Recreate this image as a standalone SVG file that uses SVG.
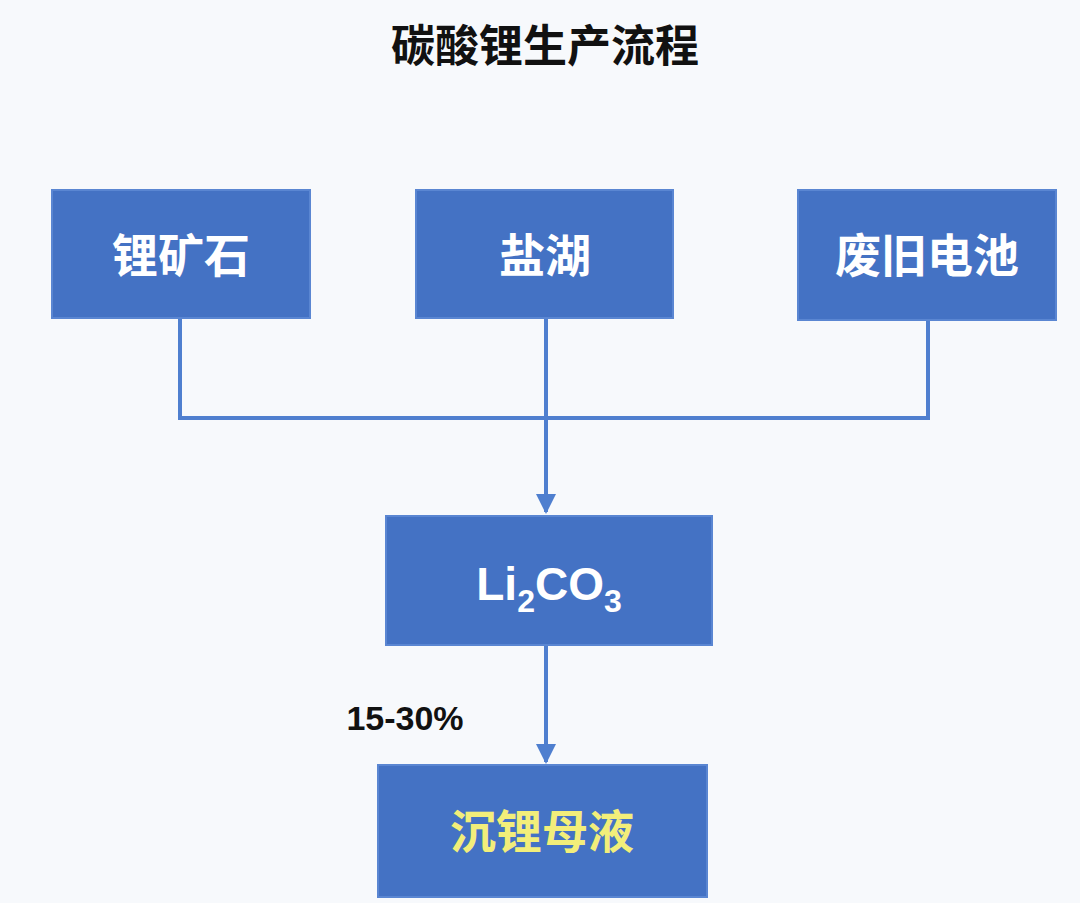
<svg xmlns="http://www.w3.org/2000/svg" width="1080" height="903" viewBox="0 0 1080 903">
<defs>
<style>
.box{fill:#4472C4;stroke:#5A86D2;stroke-width:2}
.t{font-family:"Liberation Sans","Noto Sans CJK SC",sans-serif;font-weight:bold;fill:#fff;font-size:46px;text-anchor:middle}
.c{fill:none;stroke:#4F7FCF;stroke-width:4}
</style>
<marker id="ar" markerWidth="10" markerHeight="10" refX="8" refY="5" orient="auto" markerUnits="userSpaceOnUse" viewBox="0 0 10 10"><path d="M0,0 L10,5 L0,10 z" fill="#4F7FCF"/></marker>
<marker id="arb" viewBox="0 0 10 10" refX="9" refY="5" markerWidth="22" markerHeight="20" orient="auto" markerUnits="userSpaceOnUse"><path d="M0,0 L10,5 L0,10 z" fill="#4F7FCF"/></marker>
</defs>
<rect width="1080" height="903" fill="#f7f9fc"/>
<text x="545" y="62" font-family="'Liberation Sans','Noto Sans CJK SC',sans-serif" font-weight="bold" font-size="44" text-anchor="middle" fill="#111">碳酸锂生产流程</text>
<g id="connectors">
<path class="c" d="M180,318 V418 H928 V320"/>
<path class="c" d="M546,318 V512" marker-end="url(#arb)"/>
<path class="c" d="M546,645 V762" marker-end="url(#arb)"/>
<text x="405" y="730" font-family="'Liberation Sans',sans-serif" font-weight="bold" font-size="34" text-anchor="middle" fill="#111">15-30%</text>
</g>
<g id="n1"><rect class="box" x="52" y="190" width="258" height="128"/><text class="t" x="181" y="272">锂矿石</text></g>
<g id="n2"><rect class="box" x="416" y="190" width="257" height="128"/><text class="t" x="545" y="272">盐湖</text></g>
<g id="n3"><rect class="box" x="798" y="190" width="258" height="130"/><text class="t" x="927" y="272">废旧电池</text></g>
<g id="n4"><rect class="box" x="386" y="516" width="326" height="129"/><text class="t" x="549" y="600" font-weight="normal">Li<tspan font-size="32" dy="12">2</tspan><tspan dy="-12">CO</tspan><tspan font-size="32" dy="12">3</tspan></text></g>
<g id="n5"><rect class="box" x="378" y="765" width="329" height="132"/><text class="t" x="542" y="848" style="fill:#F2EE7A">沉锂母液</text></g>
</svg>
